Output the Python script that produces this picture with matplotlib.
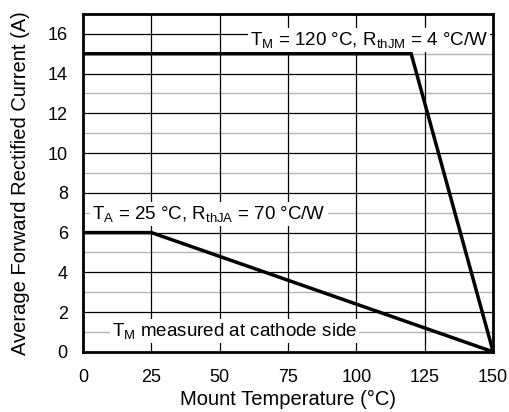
import matplotlib
matplotlib.use("Agg")
import matplotlib.pyplot as plt

plt.rcParams['font.family'] = ['Liberation Sans', 'DejaVu Sans']
plt.rcParams['mathtext.fontset'] = 'custom'
plt.rcParams['mathtext.rm'] = 'Liberation Sans'
plt.rcParams['mathtext.it'] = 'Liberation Sans'

# curves: mount temperature (°C) vs current (A)
tm_x = [0, 120, 150]
tm_y = [15, 15, 0]
ta_x = [0, 25, 150]
ta_y = [6, 6, 0]

x_ticks = [0, 25, 50, 75, 100, 125, 150]
y_ticks = [0, 2, 4, 6, 8, 10, 12, 14, 16]
y_minor = [1, 3, 5, 7, 9, 11, 13, 15]

fig = plt.figure(figsize=(5.1, 4.12), dpi=100)
ax = fig.add_axes([0.163, 0.146, 0.804, 0.82])

for y in y_minor:
    ax.axhline(y, color='#b4b4b4', lw=1.0, zorder=1)
for y in y_ticks[1:]:
    ax.axhline(y, color='black', lw=0.9, zorder=1)
for x in x_ticks[1:-1]:
    ax.axvline(x, color='black', lw=0.9, zorder=1)

ax.plot(tm_x, tm_y, color='black', lw=2.5, zorder=4, solid_joinstyle='miter')
ax.plot(ta_x, ta_y, color='black', lw=2.5, zorder=4, solid_joinstyle='miter')

box = dict(facecolor='white', edgecolor='none', pad=1.5)
ax.text(148, 15.7, r'T$_\mathregular{M}$ = 120 °C, R$_\mathregular{thJM}$ = 4 °C/W',
        ha='right', va='center', fontsize=13.5, bbox=box, zorder=3)
ax.text(3.3, 6.95, r'T$_\mathregular{A}$ = 25 °C, R$_\mathregular{thJA}$ = 70 °C/W',
        ha='left', va='center', fontsize=13.5, bbox=box, zorder=3)
ax.text(10.6, 1.05, r'T$_\mathregular{M}$ measured at cathode side',
        ha='left', va='center', fontsize=13.5, bbox=box, zorder=3)

ax.set_xlim(0, 150)
ax.set_ylim(0, 17)
ax.set_xticks(x_ticks)
ax.set_yticks(y_ticks)
ax.tick_params(length=0, labelsize=13)
ax.tick_params(axis='x', pad=12)
ax.tick_params(axis='y', pad=11)
for s in ax.spines.values():
    s.set_linewidth(2)
    s.set_zorder(5)

ax.set_xlabel('Mount Temperature (°C)', fontsize=14.5, labelpad=3)
ax.set_ylabel('Average Forward Rectified Current (A)', fontsize=14.5, labelpad=13)

fig.savefig('out.png', dpi=100)
